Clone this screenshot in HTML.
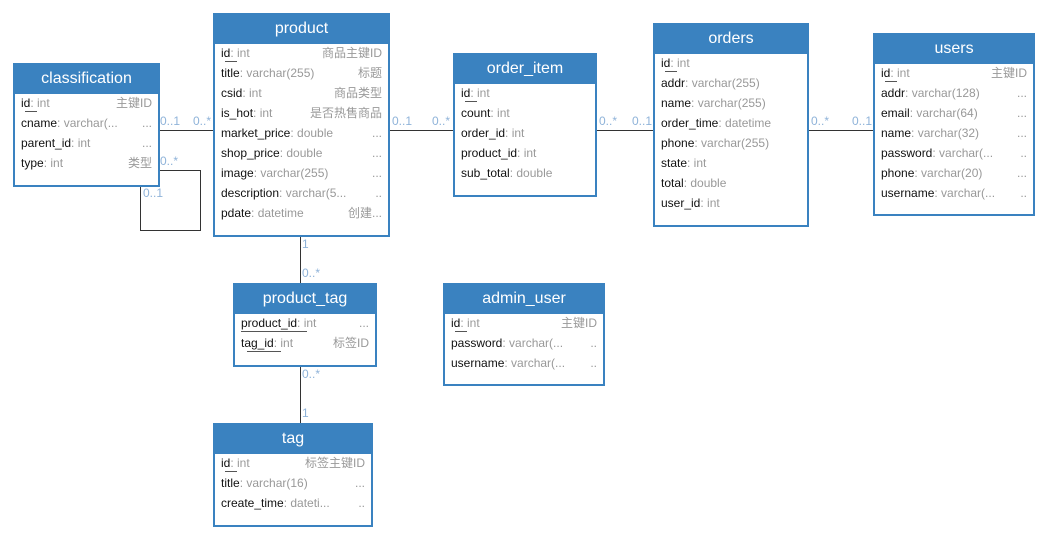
<!DOCTYPE html>
<html><head><meta charset="utf-8"><style>
body{margin:0;width:1048px;height:540px;background:#fff;position:relative;overflow:hidden;font-family:"Liberation Sans","Noto Sans CJK SC",sans-serif;}
.t{position:absolute;border:2px solid #3a82c0;background:#fff;box-sizing:border-box;}
.h{background:#3a82c0;color:#fff;height:29px;line-height:27px;text-align:center;font-size:16px;}
.r{position:absolute;left:6px;right:6px;height:20px;line-height:20px;font-size:12px;color:#111;white-space:nowrap;}
.r i{font-style:normal;color:#999;}
.r b{font-weight:normal;color:#999;position:absolute;right:0;top:0;}
.u{position:absolute;left:6px;height:1px;background:#555;}
.l{position:absolute;background:#333;}
.c{position:absolute;font-size:12px;color:#8fb3d9;line-height:14px;}
</style></head><body>

<div class="l" style="left:160px;top:130px;width:53px;height:1px"></div>
<div class="l" style="left:389px;top:130px;width:64px;height:1px"></div>
<div class="l" style="left:597px;top:130px;width:56px;height:1px"></div>
<div class="l" style="left:808px;top:130px;width:65px;height:1px"></div>
<div class="l" style="left:159px;top:170px;width:41px;height:1px"></div>
<div class="l" style="left:200px;top:170px;width:1px;height:60px"></div>
<div class="l" style="left:140px;top:230px;width:61px;height:1px"></div>
<div class="l" style="left:140px;top:186px;width:1px;height:44px"></div>
<div class="l" style="left:300px;top:236px;width:1px;height:47px"></div>
<div class="l" style="left:300px;top:366px;width:1px;height:57px"></div>

<div class="c" style="left:160px;top:114px">0..1</div>
<div class="c" style="left:193px;top:114px">0..*</div>
<div class="c" style="left:160px;top:154px">0..*</div>
<div class="c" style="left:143px;top:186px">0..1</div>
<div class="c" style="left:392px;top:114px">0..1</div>
<div class="c" style="left:432px;top:114px">0..*</div>
<div class="c" style="left:599px;top:114px">0..*</div>
<div class="c" style="left:632px;top:114px">0..1</div>
<div class="c" style="left:811px;top:114px">0..*</div>
<div class="c" style="left:852px;top:114px">0..1</div>
<div class="c" style="left:302px;top:237px">1</div>
<div class="c" style="left:302px;top:266px">0..*</div>
<div class="c" style="left:302px;top:367px">0..*</div>
<div class="c" style="left:302px;top:406px">1</div>

<div class="t" style="left:13px;top:63px;width:147px;height:124px">
<div class="h">classification</div>
<div class="r" style="top:28px">id<i>: int</i><b>主键ID</b></div><div class="u" style="top:46px;left:10px;width:12px"></div>
<div class="r" style="top:48px">cname<i>: varchar(...</i><b>...</b></div>
<div class="r" style="top:68px">parent_id<i>: int</i><b>...</b></div>
<div class="r" style="top:88px">type<i>: int</i><b>类型</b></div>
</div>

<div class="t" style="left:213px;top:13px;width:177px;height:224px">
<div class="h">product</div>
<div class="r" style="top:28px">id<i>: int</i><b>商品主键ID</b></div><div class="u" style="top:46px;left:10px;width:12px"></div>
<div class="r" style="top:48px">title<i>: varchar(255)</i><b>标题</b></div>
<div class="r" style="top:68px">csid<i>: int</i><b>商品类型</b></div>
<div class="r" style="top:88px">is_hot<i>: int</i><b>是否热售商品</b></div>
<div class="r" style="top:108px">market_price<i>: double</i><b>...</b></div>
<div class="r" style="top:128px">shop_price<i>: double</i><b>...</b></div>
<div class="r" style="top:148px">image<i>: varchar(255)</i><b>...</b></div>
<div class="r" style="top:168px">description<i>: varchar(5...</i><b>..</b></div>
<div class="r" style="top:188px">pdate<i>: datetime</i><b>创建...</b></div>
</div>

<div class="t" style="left:453px;top:53px;width:144px;height:144px">
<div class="h">order_item</div>
<div class="r" style="top:28px">id<i>: int</i></div><div class="u" style="top:46px;left:10px;width:12px"></div>
<div class="r" style="top:48px">count<i>: int</i></div>
<div class="r" style="top:68px">order_id<i>: int</i></div>
<div class="r" style="top:88px">product_id<i>: int</i></div>
<div class="r" style="top:108px">sub_total<i>: double</i></div>
</div>

<div class="t" style="left:653px;top:23px;width:156px;height:204px">
<div class="h">orders</div>
<div class="r" style="top:28px">id<i>: int</i></div><div class="u" style="top:46px;left:10px;width:12px"></div>
<div class="r" style="top:48px">addr<i>: varchar(255)</i></div>
<div class="r" style="top:68px">name<i>: varchar(255)</i></div>
<div class="r" style="top:88px">order_time<i>: datetime</i></div>
<div class="r" style="top:108px">phone<i>: varchar(255)</i></div>
<div class="r" style="top:128px">state<i>: int</i></div>
<div class="r" style="top:148px">total<i>: double</i></div>
<div class="r" style="top:168px">user_id<i>: int</i></div>
</div>

<div class="t" style="left:873px;top:33px;width:162px;height:183px">
<div class="h">users</div>
<div class="r" style="top:28px">id<i>: int</i><b>主键ID</b></div><div class="u" style="top:46px;left:10px;width:12px"></div>
<div class="r" style="top:48px">addr<i>: varchar(128)</i><b>...</b></div>
<div class="r" style="top:68px">email<i>: varchar(64)</i><b>...</b></div>
<div class="r" style="top:88px">name<i>: varchar(32)</i><b>...</b></div>
<div class="r" style="top:108px">password<i>: varchar(...</i><b>..</b></div>
<div class="r" style="top:128px">phone<i>: varchar(20)</i><b>...</b></div>
<div class="r" style="top:148px">username<i>: varchar(...</i><b>..</b></div>
</div>

<div class="t" style="left:233px;top:283px;width:144px;height:84px">
<div class="h">product_tag</div>
<div class="r" style="top:28px">product_id<i>: int</i><b>...</b></div><div class="u" style="top:46px;left:6px;width:66px"></div>
<div class="r" style="top:48px">tag_id<i>: int</i><b>标签ID</b></div><div class="u" style="top:66px;left:12px;width:34px"></div>
</div>

<div class="t" style="left:443px;top:283px;width:162px;height:103px">
<div class="h">admin_user</div>
<div class="r" style="top:28px">id<i>: int</i><b>主键ID</b></div><div class="u" style="top:46px;left:10px;width:12px"></div>
<div class="r" style="top:48px">password<i>: varchar(...</i><b>..</b></div>
<div class="r" style="top:68px">username<i>: varchar(...</i><b>..</b></div>
</div>

<div class="t" style="left:213px;top:423px;width:160px;height:104px">
<div class="h">tag</div>
<div class="r" style="top:28px">id<i>: int</i><b>标签主键ID</b></div><div class="u" style="top:46px;left:10px;width:12px"></div>
<div class="r" style="top:48px">title<i>: varchar(16)</i><b>...</b></div>
<div class="r" style="top:68px">create_time<i>: dateti...</i><b>..</b></div>
</div>

</body></html>
